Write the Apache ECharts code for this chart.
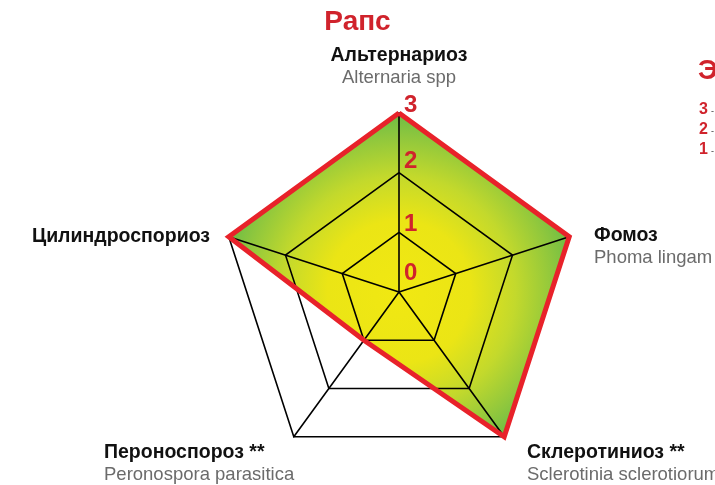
<!DOCTYPE html>
<html>
<head>
<meta charset="utf-8">
<script src="https://cdn.jsdelivr.net/npm/echarts@6/dist/echarts.min.js"></script>
<style>
  html, body { margin: 0; padding: 0; background: #fff; }
  #chart { width: 715px; height: 485px; }
</style>
</head>
<body>
<div id="chart"></div>
<script>
// indicators, counter-clockwise from the top (echarts radar order)
var names = ['Альтернариоз', 'Цилиндроспориоз', 'Пероноспороз **', 'Склеротиниоз **', 'Фомоз'];
var latin = ['Alternaria spp', '', 'Peronospora parasitica', 'Sclerotinia sclerotiorum', 'Phoma lingam'];
var values = [3, 3, 1, 3, 3];
var ticks = ['0', '1', '2', '3'];
var legendMarks = ['3', '2', '1'];

var cx = 399, cy = 292, R = 179, maxV = 3;
var font = '"Liberation Sans", Arial, sans-serif';
var red = '#d0232c';

var chart = echarts.init(document.getElementById('chart'));

var graphics = [];
graphics.push({
    type: 'text', left: 'center', top: 8, z: 100,
    style: { text: 'Рапс', font: 'bold 28px ' + font, fill: red }
});

// label positions for each indicator: [x, y, align]
var namePos = [
    [cx, 56, 'center'],
    [210, 237, 'right'],
    [104, 453, 'left'],
    [527, 453, 'left'],
    [594, 236, 'left']
];
names.forEach(function (n, i) {
    var p = namePos[i];
    graphics.push({
        type: 'text', x: p[0], y: p[1], z: 100,
        style: { text: n, font: 'bold 19.5px ' + font, fill: '#111', align: p[2], verticalAlign: 'middle' }
    });
    if (latin[i]) {
        graphics.push({
            type: 'text', x: p[0], y: p[1] + 22, z: 100,
            style: { text: latin[i], font: '18.5px ' + font, fill: '#6b6b6b', align: p[2], verticalAlign: 'middle' }
        });
    }
});

// ring values along the top axis
var tickOffset = [-19, -8, -11, -8];
ticks.forEach(function (t, i) {
    graphics.push({
        type: 'text', x: cx + 5, y: cy - R * Number(t) / maxV + tickOffset[i], z: 100,
        style: { text: t, font: 'bold 24px ' + font, fill: red, align: 'left', verticalAlign: 'middle' }
    });
});

// legend on the right (cut by the frame)
graphics.push({
    type: 'text', x: 698, y: 71, z: 100,
    style: { text: 'Э', font: 'bold 28px ' + font, fill: red, align: 'left', verticalAlign: 'middle' }
});
legendMarks.forEach(function (m, i) {
    graphics.push({
        type: 'text', x: 699, y: 110 + i * 20, z: 100,
        style: { text: m, font: 'bold 16px ' + font, fill: red, align: 'left', verticalAlign: 'middle' }
    });
    graphics.push({
        type: 'text', x: 711, y: 112 + i * 20, z: 100,
        style: { text: '-', font: '9px ' + font, fill: '#333', align: 'left', verticalAlign: 'middle' }
    });
});

var option = {
    animation: false,
    graphic: graphics,
    radar: {
        z: 10,
        center: [cx, cy],
        radius: R,
        startAngle: 90,
        splitNumber: 3,
        shape: 'polygon',
        indicator: names.map(function (n) { return { name: n, min: 0, max: maxV }; }),
        axisName: { show: false },
        axisLine: { lineStyle: { color: '#000', width: 1.6 } },
        splitLine: { lineStyle: { color: '#000', width: 1.6 } },
        splitArea: { show: false }
    },
    series: [{
        // gradient fill, under the grid
        type: 'radar',
        symbol: 'none',
        z: 1,
        data: [{ value: values }],
        lineStyle: { width: 0, opacity: 0 },
        areaStyle: {
            opacity: 1,
            color: {
                type: 'radial', x: cx, y: cy, r: R, global: true,
                colorStops: [
                    { offset: 0, color: '#f1e812' },
                    { offset: 0.4, color: '#ebe515' },
                    { offset: 0.65, color: '#c3d92c' },
                    { offset: 0.88, color: '#8cc63e' },
                    { offset: 1, color: '#6cbd45' }
                ]
            }
        }
    }, {
        // red outline, over the grid
        type: 'radar',
        symbol: 'none',
        z: 20,
        data: [{ value: values }],
        lineStyle: { color: '#e8222a', width: 5, join: 'miter' }
    }]
};
chart.setOption(option);
</script>
</body>
</html>
